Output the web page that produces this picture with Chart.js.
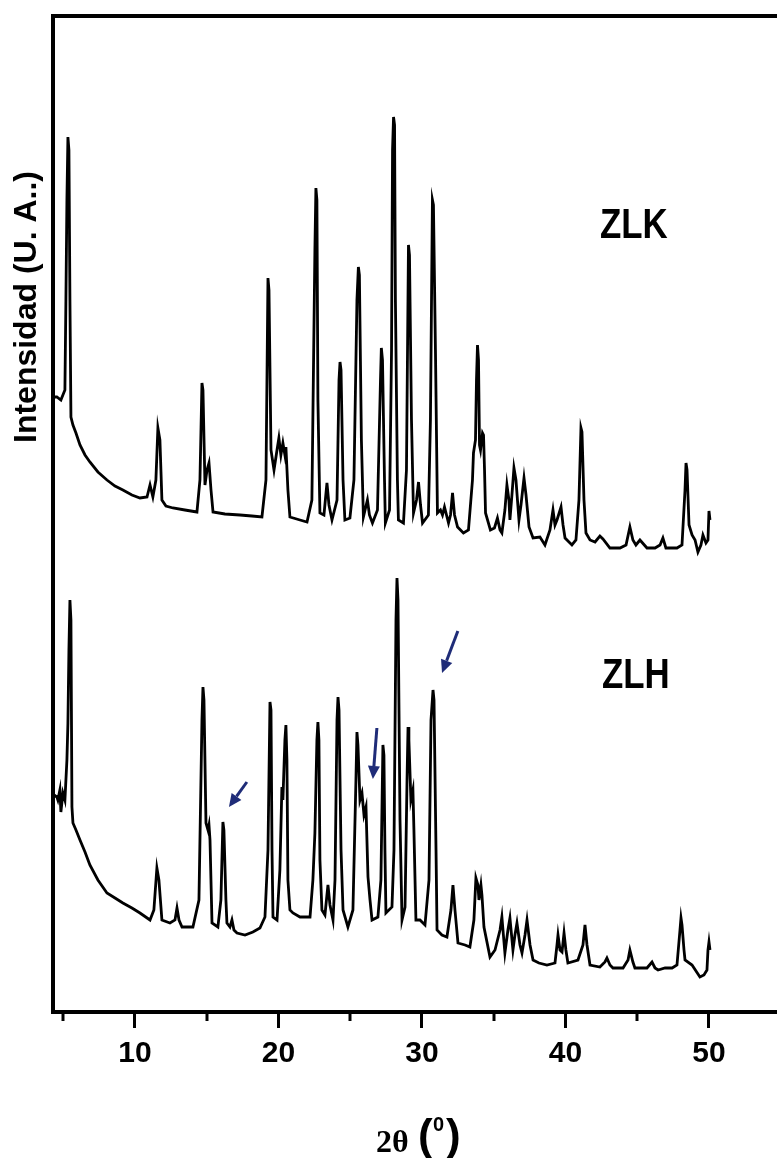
<!DOCTYPE html>
<html><head><meta charset="utf-8">
<script src="https://cdn.jsdelivr.net/npm/chart.js@4/dist/chart.umd.min.js"></script>
<style>html,body{margin:0;padding:0;background:#fff}</style>
</head><body>
<canvas id="c" width="777" height="1158"></canvas>
<script>
// ---- data ----
const zlkTheta = [4.36,4.56,4.84,4.98,5.12,5.19,5.26,5.33,5.40,5.47,5.54,5.68,5.89,6.17,6.52,6.86,7.42,8.05,8.61,9.16,9.79,10.35,10.84,11.05,11.25,11.46,11.60,11.74,11.88,12.16,12.65,13.48,14.32,14.53,14.67,14.74,14.88,15.02,15.16,15.30,15.44,16.27,17.32,18.15,18.85,19.13,19.27,19.34,19.48,19.69,19.90,20.03,20.17,20.31,20.45,20.52,20.66,20.80,21.50,21.99,22.33,22.54,22.61,22.68,22.75,22.89,23.17,23.38,23.52,23.73,24.08,24.22,24.29,24.36,24.50,24.63,24.98,25.26,25.47,25.57,25.64,25.78,25.92,26.20,26.34,26.55,26.90,27.11,27.17,27.25,27.39,27.45,27.74,27.88,27.95,28.02,28.09,28.15,28.29,28.36,28.71,28.92,29.06,29.13,29.27,29.41,29.62,29.76,29.90,30.04,30.45,30.59,30.73,30.80,30.94,31.08,31.29,31.43,31.57,31.85,31.99,32.13,32.27,32.48,32.89,33.24,33.52,33.59,33.73,33.80,33.87,33.94,34.01,34.08,34.22,34.29,34.36,34.43,34.77,35.05,35.26,35.44,35.57,35.78,35.92,36.06,36.13,36.27,36.41,36.55,36.76,36.90,37.11,37.25,37.46,37.74,38.22,38.57,38.92,39.13,39.27,39.41,39.69,39.83,39.97,40.45,40.73,40.94,41.08,41.15,41.29,41.43,41.71,42.06,42.40,42.61,43.10,43.80,44.22,44.49,44.70,44.91,45.19,45.68,46.24,46.59,46.79,47.00,47.77,48.12,48.33,48.40,48.47,48.61,48.82,49.03,49.23,49.44,49.58,49.79,49.93,50.00,50.07];
const zlkIntensity = [615,615,612,617,622,712,812,875,862,712,595,587,579,567,557,550,540,532,526,522,517,514,515,527,515,532,584,572,512,506,504,502,500,532,629,622,527,542,549,522,500,498,497,496,495,532,734,722,562,542,562,574,557,569,557,565,522,495,492,490,512,762,824,812,612,499,497,529,507,492,512,632,650,642,532,492,494,532,712,745,737,572,495,512,497,489,502,632,664,652,532,489,502,662,862,895,887,712,532,492,489,542,767,757,592,499,512,530,507,489,497,592,812,807,662,499,502,497,505,489,497,519,497,485,479,482,532,559,572,632,667,652,567,562,579,577,542,499,482,484,494,482,479,502,527,512,492,517,544,532,492,507,534,517,485,474,475,467,482,502,487,492,505,487,474,467,472,512,584,580,512,479,472,470,476,473,464,464,467,485,472,467,472,464,464,467,474,464,464,467,522,549,542,487,477,472,460,467,477,469,472,501,492];

const zlhTheta = [4.36,4.56,4.63,4.77,4.84,4.98,5.12,5.26,5.33,5.40,5.47,5.54,5.61,5.68,5.89,6.17,6.52,6.86,7.42,8.05,8.61,9.16,9.79,10.35,11.05,11.32,11.53,11.67,11.88,12.44,12.79,12.93,13.07,13.28,14.04,14.46,14.67,14.74,14.81,14.95,15.09,15.16,15.23,15.37,15.78,15.99,16.13,16.20,16.34,16.41,16.62,16.76,16.90,17.11,17.67,18.22,18.71,19.06,19.27,19.41,19.48,19.55,19.62,19.90,20.10,20.24,20.31,20.45,20.52,20.59,20.66,20.80,21.01,21.50,22.20,22.40,22.54,22.68,22.75,22.82,22.89,23.03,23.24,23.45,23.59,23.80,23.94,24.08,24.15,24.22,24.36,24.50,24.84,25.19,25.40,25.47,25.54,25.68,25.82,25.96,26.10,26.24,26.38,26.52,26.93,27.14,27.28,27.35,27.42,27.49,27.91,28.05,28.19,28.26,28.33,28.47,28.61,28.82,28.96,29.03,29.09,29.23,29.37,29.44,29.58,29.86,30.21,30.49,30.63,30.77,30.84,30.98,31.05,31.39,31.74,32.02,32.16,32.30,32.51,33.00,33.34,33.62,33.76,33.90,33.97,34.11,34.18,34.32,34.74,35.09,35.44,35.57,35.78,35.99,36.13,36.34,36.48,36.62,36.83,36.97,37.18,37.32,37.53,37.74,38.15,38.71,39.27,39.41,39.48,39.62,39.76,39.90,40.03,40.17,40.87,41.22,41.36,41.50,41.71,42.40,42.75,42.89,43.10,43.31,44.01,44.36,44.49,44.70,44.84,45.68,46.03,46.24,46.45,46.94,47.43,47.77,47.98,48.05,48.12,48.26,48.33,48.82,49.37,49.65,49.86,49.93,50.00,50.07];
const zlhIntensity = [217,215,212,222,200,219,212,252,289,362,412,392,205,189,182,172,160,147,132,119,114,109,104,99,92,102,144,132,92,89,92,104,92,85,85,112,292,325,312,189,182,187,172,89,85,112,190,182,112,89,85,92,82,79,77,80,84,95,162,310,302,162,95,92,142,225,212,272,287,252,132,102,99,95,95,132,179,272,290,272,152,102,97,127,107,92,132,292,315,302,162,102,85,102,232,280,267,212,219,197,205,135,112,92,95,132,267,257,162,99,105,162,392,434,412,192,92,105,232,285,272,212,222,182,92,92,87,132,292,322,312,162,82,77,75,102,127,102,69,67,65,92,134,127,112,127,117,85,55,62,82,95,59,82,94,62,77,89,67,59,77,92,67,52,49,47,49,67,77,62,60,79,62,49,52,67,87,67,47,45,50,54,47,44,44,52,62,50,44,44,50,44,42,44,44,47,82,94,87,62,52,47,35,37,42,62,70,62];

const xTickValues = [10, 20, 30, 40, 50];
const xMinorTickValues = [5, 15, 25, 35, 45];
const sampleLabels = ['ZLK', 'ZLH'];
const sampleLabelPos = [[42.4, 774], [42.54, 324]];        // [2θ, intensity] of label baseline start
const arrows = [                                           // [θ from, I from, θ to, I to]
  [17.80, 230, 16.55, 205],
  [26.86, 284, 26.58, 233],
  [32.50, 381, 31.40, 339]
];
const yTitle = 'Intensidad (U. A..)';
const xTitleMain = '2θ';
const xTitleUnit = '0';

// ---- chart ----
const toPts = (t, v) => t.map((x, i) => ({ x: x, y: v[i] }));

const decor = {
  id: 'decor',
  afterDraw(chart) {
    const ctx = chart.ctx, ca = chart.chartArea;
    const xs = chart.scales.x, ys = chart.scales.y;
    ctx.save();
    // top frame line
    ctx.fillStyle = '#000';
    ctx.fillRect(ca.left - 2, ca.top - 2, ca.right - ca.left + 4, 4);
    // minor ticks
    ctx.strokeStyle = '#000';
    ctx.lineWidth = 3;
    xMinorTickValues.forEach(v => {
      const px = Math.round(xs.getPixelForValue(v));
      ctx.beginPath(); ctx.moveTo(px, ca.bottom); ctx.lineTo(px, ca.bottom + 9); ctx.stroke();
    });
    // sample labels
    ctx.fillStyle = '#000';
    ctx.font = 'bold 42px "Liberation Sans", Arial, sans-serif';
    ctx.textAlign = 'left'; ctx.textBaseline = 'alphabetic';
    sampleLabels.forEach((s, i) => {
      const px = xs.getPixelForValue(sampleLabelPos[i][0]);
      const py = ys.getPixelForValue(sampleLabelPos[i][1]);
      ctx.save(); ctx.translate(px, py); ctx.scale(0.83, 1); ctx.fillText(s, 0, 0); ctx.restore();
    });
    // arrows
    ctx.strokeStyle = '#1f2c78'; ctx.fillStyle = '#1f2c78';
    arrows.forEach(a => {
      const x1 = xs.getPixelForValue(a[0]), y1 = ys.getPixelForValue(a[1]);
      const x2 = xs.getPixelForValue(a[2]), y2 = ys.getPixelForValue(a[3]);
      const ang = Math.atan2(y2 - y1, x2 - x1);
      const hl = 13, hw = 6;
      const bx = x2 - hl * Math.cos(ang), by = y2 - hl * Math.sin(ang);
      ctx.lineWidth = 3;
      ctx.beginPath(); ctx.moveTo(x1, y1); ctx.lineTo(bx, by); ctx.stroke();
      ctx.beginPath();
      ctx.moveTo(x2, y2);
      ctx.lineTo(bx + hw * Math.sin(ang), by - hw * Math.cos(ang));
      ctx.lineTo(bx - hw * Math.sin(ang), by + hw * Math.cos(ang));
      ctx.closePath(); ctx.fill();
    });
    // y title
    ctx.fillStyle = '#000';
    ctx.save();
    ctx.translate(36, (ca.top + ca.bottom) / 2 - 207);
    ctx.rotate(-Math.PI / 2);
    ctx.font = 'bold 32px "Liberation Sans", Arial, sans-serif';
    ctx.textAlign = 'center'; ctx.textBaseline = 'alphabetic';
    ctx.fillText(yTitle, 0, 0);
    ctx.restore();
    // x title
    const cx = 376;
    ctx.textAlign = 'left'; ctx.textBaseline = 'alphabetic';
    ctx.font = 'bold 32px "Liberation Serif", "Times New Roman", serif';
    ctx.fillText(xTitleMain, cx, 1152);
    ctx.font = 'bold 44px "Liberation Sans", Arial, sans-serif';
    ctx.fillText('(', cx + 42, 1150);
    ctx.fillText(')', cx + 70, 1150);
    ctx.font = 'bold 20px "Liberation Sans", Arial, sans-serif';
    ctx.fillText(xTitleUnit, cx + 57, 1131);
    ctx.restore();
  }
};

new Chart(document.getElementById('c'), {
  type: 'scatter',
  data: {
    datasets: [
      { label: sampleLabels[0], data: toPts(zlkTheta, zlkIntensity), showLine: true, borderColor: '#000', borderWidth: 2.8, pointRadius: 0, tension: 0 },
      { label: sampleLabels[1], data: toPts(zlhTheta, zlhIntensity), showLine: true, borderColor: '#000', borderWidth: 2.8, pointRadius: 0, tension: 0 }
    ]
  },
  options: {
    responsive: false,
    devicePixelRatio: 1,
    animation: false,
    layout: { padding: { top: 16, left: 0, right: 0, bottom: 0 } },
    plugins: { legend: { display: false }, tooltip: { enabled: false } },
    scales: {
      x: {
        type: 'linear', position: 'bottom', min: 4.29, max: 54.74,
        afterBuildTicks: s => { s.ticks = xTickValues.map(v => ({ value: v })); },
        afterFit: s => { s.height = 146; },
        ticks: { color: '#000', padding: 8, font: { family: '"Liberation Sans", Arial, sans-serif', size: 30, weight: 'bold' }, maxRotation: 0, autoSkip: false },
        grid: { drawOnChartArea: false, drawTicks: true, tickLength: 16, tickWidth: 3, tickColor: '#000' },
        border: { display: true, color: '#000', width: 4 }
      },
      y: {
        type: 'linear', min: 0, max: 996,
        afterFit: s => { s.width = 53; },
        ticks: { display: false },
        grid: { display: false },
        border: { display: true, color: '#000', width: 4 }
      }
    }
  },
  plugins: [decor]
});
</script>
</body></html>
